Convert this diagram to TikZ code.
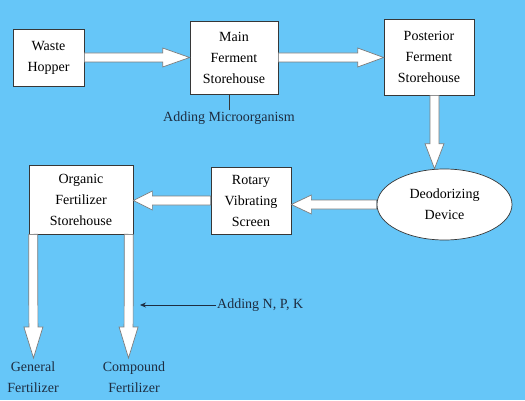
\documentclass[tikz,border=0pt]{standalone}
\usepackage{fontspec}
\setmainfont{Liberation Serif}
\usetikzlibrary{positioning,arrows.meta,shapes.geometric,calc}
\definecolor{skyback}{RGB}{102,198,248}
\definecolor{boxline}{RGB}{55,55,55}
\definecolor{arrowline}{RGB}{125,125,125}
\definecolor{labelink}{RGB}{30,45,65}

% wide white arrow from #2 to #3, head length #1
\newcommand{\fatarrow}[3][26]{%
  \draw[fat] let \p1=($(#3)-(#2)$), \n1={atan2(\y1,\x1)}, \n2={veclen(\x1,\y1)-#1} in
    [shift={(#2)}, rotate=\n1] (0,-4.5) -- (\n2,-4.5) -- (\n2,-9.5) -- (\n2+#1,0)
    -- (\n2,9.5) -- (\n2,4.5) -- (0,4.5) -- cycle;}

\begin{document}
\begin{tikzpicture}[
  x=1pt, y=1pt,
  unit/.style={rectangle, draw=boxline, fill=white, line width=0.7pt, align=center, inner sep=2pt, font=\fontsize{14}{21}\selectfont},
  device/.style={ellipse, draw=boxline, fill=white, line width=0.7pt, align=center, inner sep=0pt, font=\fontsize{14}{21}\selectfont},
  note/.style={text=labelink, align=center, inner sep=1pt, font=\fontsize{14}{21}\selectfont},
  fat/.style={draw=arrowline, fill=white, line width=0.7pt, line join=miter},
  thin/.style={draw=labelink, line width=0.7pt, -{Stealth[length=6pt,width=5pt]}}
]
  \fill[skyback] (0,0) rectangle (525,400);
  \useasboundingbox (0,0) rectangle (525,400);

  % Nodes
  \node[unit, minimum width=71pt, minimum height=57pt] (waste) at (48.5,342.5) {Waste\\Hopper};
  \node[unit, minimum width=88pt, minimum height=73pt] (main) at (234,342.5) {Main\\Ferment\\Storehouse};
  \node[unit, minimum width=90pt, minimum height=76pt] (post) at (429,343) {Posterior\\Ferment\\Storehouse};
  \node[device, minimum width=135pt, minimum height=71pt] (deo) at (444.5,195.5) {Deodorizing\\Device};
  \node[unit, minimum width=80pt, minimum height=67pt] (rotary) at (251,199.5) {Rotary\\Vibrating\\Screen};
  \node[unit, minimum width=104pt, minimum height=69pt] (organic) at (81,200.5) {Organic\\Fertilizer\\Storehouse};

  \node[note] (micro) at (229,282) {Adding Microorganism};
  \node[note, anchor=west] (npk) at (216,95) {Adding N, P, K};
  \node[note] (general) at (33,22.5) {General\\Fertilizer};
  \node[note] (compound) at (134,22.5) {Compound\\Fertilizer};

  \coordinate (posttop) at ($(post.south)+(5.5,0)$);
  \coordinate (deotop) at ($(deo.north)+(-10,0)$);
  \coordinate (genstart) at ($(organic.south west)+(4.5,0)$);
  \coordinate (gentip) at (33.5,42);
  \coordinate (compstart) at ($(organic.south east)+(-4.5,0)$);
  \coordinate (comptip) at (128.5,42);
  \coordinate (npktip) at (140,95);

  % Arrows
  \fatarrow[27]{waste.east}{main.west}
  \fatarrow[26]{main.east}{main.east -| post.west}
  \fatarrow[25]{posttop}{deotop}
  \fatarrow[20]{deo.west}{deo.west -| rotary.east}
  \fatarrow[19]{rotary.west}{rotary.west -| organic.east}
  \fatarrow[31]{genstart}{gentip}
  \fatarrow[31]{compstart}{comptip}

  \draw[draw=boxline, line width=0.7pt] (micro.north) -- (micro.north |- main.south);
  \draw[thin] (npk.west) -- (npktip);

\end{tikzpicture}
\end{document}
